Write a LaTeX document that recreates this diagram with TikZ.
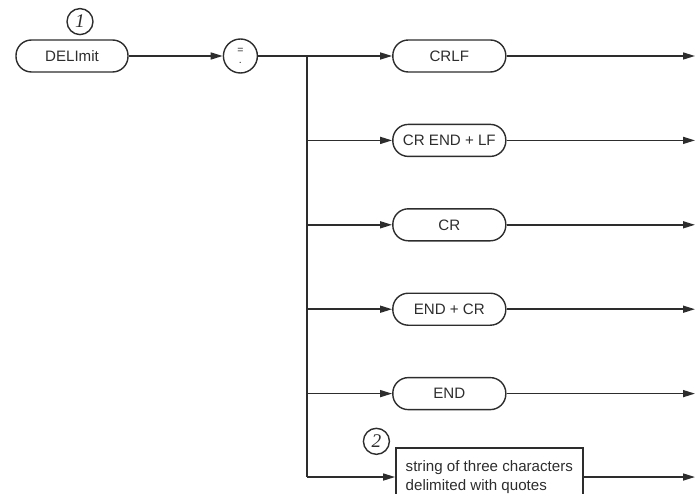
\documentclass[tikz,border=0pt]{standalone}
\usepackage{fontspec}
\setmainfont{Liberation Sans}
\newfontfamily\notefont{Liberation Serif}
\usepackage{xcolor}
\usepackage{tikz}
\usetikzlibrary{arrows.meta,positioning,calc}
\definecolor{ink}{RGB}{45,45,45}

\begin{document}
\begin{tikzpicture}[
    node distance=1.02cm,
    every node/.style={text=ink},
    pill/.style={rectangle, draw=ink, line width=0.8pt, rounded corners=0.31cm, minimum width=2.26cm, minimum height=0.64cm, align=center, font=\fontsize{8.6}{10}\selectfont},
    strbox/.style={rectangle, draw=ink, line width=0.8pt, minimum width=3.74cm, minimum height=1.16cm, align=left, font=\fontsize{8.6}{10.5}\selectfont},
    opcircle/.style={circle, draw=ink, line width=0.8pt, minimum size=0.68cm, inner sep=0pt, align=center, font=\fontsize{6}{6}\selectfont},
    note/.style={circle, draw=ink, line width=0.8pt, minimum size=0.52cm, inner sep=0pt, font=\notefont\itshape\fontsize{11}{11}\selectfont},
    line/.style={draw=ink, line width=0.85pt},
    arrow/.style={-{Triangle[length=0.24cm,width=0.14cm]}, draw=ink, line width=0.85pt},
]

% === FRAME ===
\useasboundingbox (0,0) rectangle (13.9,-9.88);
\clip (0,0) rectangle (13.9,-9.88);

% === KEYWORD ===
\node[pill, minimum width=2.24cm] (delim) at (1.44,-1.12) {DELImit};
\node[note, above=0.08cm of delim, xshift=0.16cm] (note1) {1};
\node[opcircle, right=1.88cm of delim] (eq) {=\\.};

% === CHOICES ===
\node[pill, right=2.68cm of eq] (crlf) {CRLF};
\node[pill, below=of crlf] (crend) {CR END + LF};
\node[pill, below=of crend] (cr) {CR};
\node[pill, below=of cr] (endcr) {END + CR};
\node[pill, below=of endcr] (endd) {END};
\node[strbox, below=0.74cm of endd.south west, anchor=north west, xshift=0.06cm] (string) {string of three characters\\delimited with quotes};
\node[note, left=0.1cm of string.north west, yshift=0.12cm] (note2) {2};

% === JUNCTION AND EXIT ===
\coordinate[right=0.98cm of eq] (jn);
\coordinate (edge) at (13.9,0);

% === ARROWS ===
\draw[arrow] (delim) -- (eq);
\draw[arrow] (eq) -- (crlf);
\draw[line] (jn) -- (jn |- string.west);
\draw[arrow] (jn |- crend.west) -- (crend);
\draw[arrow] (jn |- cr.west) -- (cr);
\draw[arrow] (jn |- endcr.west) -- (endcr);
\draw[arrow] (jn |- endd.west) -- (endd);
\draw[arrow] (jn |- string.west) -- (string);

\draw[arrow] (crlf) -- (crlf -| edge);
\draw[arrow] (crend) -- (crend -| edge);
\draw[arrow] (cr) -- (cr -| edge);
\draw[arrow] (endcr) -- (endcr -| edge);
\draw[arrow] (endd) -- (endd -| edge);
\draw[arrow] (string) -- (string -| edge);

\end{tikzpicture}
\end{document}
